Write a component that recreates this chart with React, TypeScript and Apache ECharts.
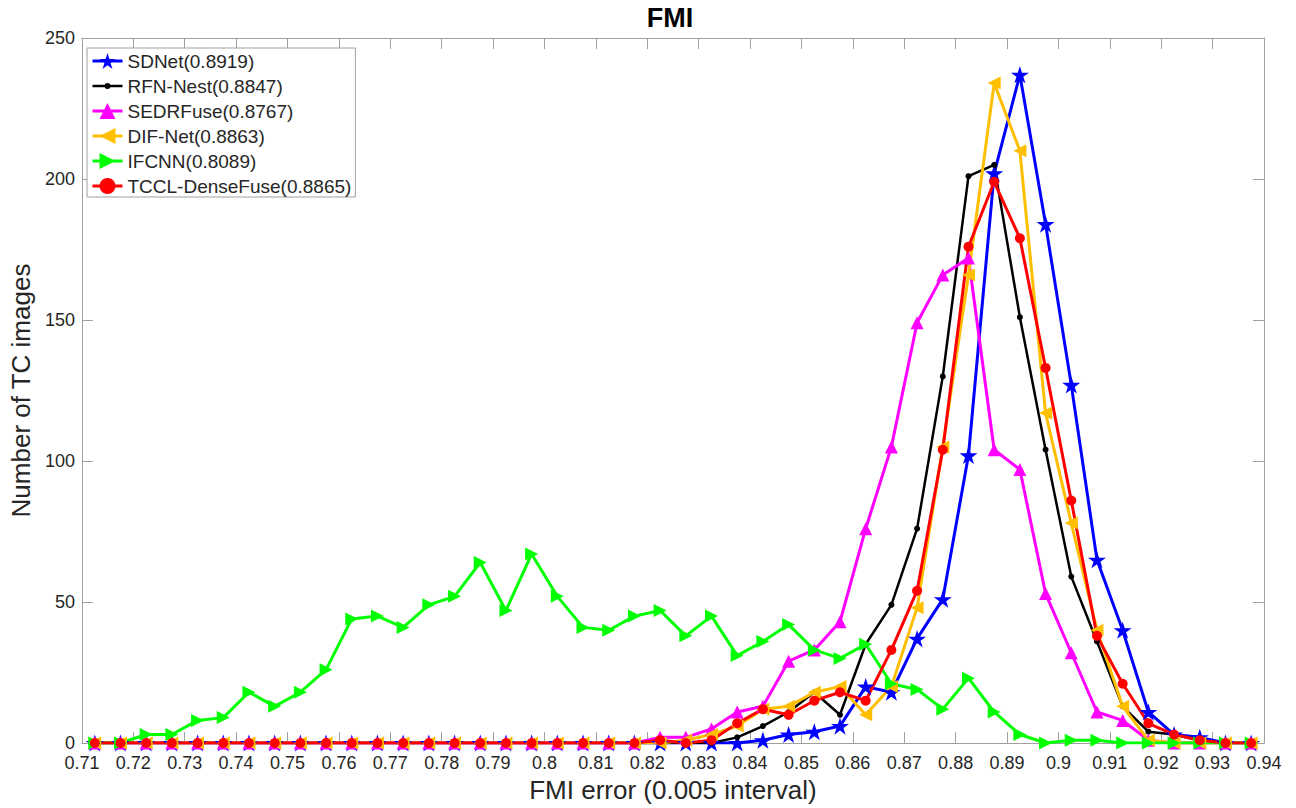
import React, { useEffect, useRef } from "react";
import * as echarts from "echarts";

// FMI bin centres (0.005 interval)
const binCenters = [
  0.7125, 0.7175, 0.7225, 0.7275, 0.7325, 0.7375, 0.7425, 0.7475, 0.7525, 0.7575,
  0.7625, 0.7675, 0.7725, 0.7775, 0.7825, 0.7875, 0.7925, 0.7975, 0.8025, 0.8075,
  0.8125, 0.8175, 0.8225, 0.8275, 0.8325, 0.8375, 0.8425, 0.8475, 0.8525, 0.8575,
  0.8625, 0.8675, 0.8725, 0.8775, 0.8825, 0.8875, 0.8925, 0.8975, 0.9025, 0.9075,
  0.9125, 0.9175, 0.9225, 0.9275, 0.9325, 0.9375,
];

const sdnet = [
  0, 0, 0, 0, 0, 0, 0, 0, 0, 0,
  0, 0, 0, 0, 0, 0, 0, 0, 0, 0,
  0, 0, 0, 0, 0, 0, 1, 3, 4, 6,
  20, 18, 37, 51, 102, 202, 237, 184, 127, 65,
  40, 11, 3, 2, 0, 0,
];
const rfnNest = [
  0, 0, 0, 0, 0, 0, 0, 0, 0, 0,
  0, 0, 0, 0, 0, 0, 0, 0, 0, 0,
  0, 0, 0, 0, 0, 2, 6, 11, 18, 10,
  35, 49, 76, 130, 201, 205, 151, 104, 59, 36,
  13, 4, 3, 1, 0, 0,
];
const sedrfuse = [
  0, 0, 0, 0, 0, 0, 0, 0, 0, 0,
  0, 0, 0, 0, 0, 0, 0, 0, 0, 0,
  0, 0, 2, 2, 5, 11, 13, 29, 33, 43,
  76, 105, 149, 166, 172, 104, 97, 53, 32, 11,
  8, 1, 0, 0, 0, 0,
];
const difNet = [
  0, 0, 0, 0, 0, 0, 0, 0, 0, 0,
  0, 0, 0, 0, 0, 0, 0, 0, 0, 0,
  0, 0, 0, 1, 3, 6, 12, 13, 18, 20,
  10, 20, 48, 105, 166, 234, 210, 117, 78, 40,
  13, 1, 0, 0, 0, 0,
];
const ifcnn = [
  0, 0, 3, 3, 8, 9, 18, 13, 18, 26,
  44, 45, 41, 49, 52, 64, 47, 67, 52, 41,
  40, 45, 47, 38, 45, 31, 36, 42, 33, 30,
  35, 21, 19, 12, 23, 11, 3, 0, 1, 1,
  0, 0, 0, 0, 0, 0,
];
const tccl = [
  0, 0, 0, 0, 0, 0, 0, 0, 0, 0,
  0, 0, 0, 0, 0, 0, 0, 0, 0, 0,
  0, 0, 1, 0, 1, 7, 12, 10, 15, 18,
  15, 33, 54, 104, 176, 199, 179, 133, 86, 38,
  21, 7, 3, 1, 0, 0,
];

const seriesNames = [
  "SDNet(0.8919)",
  "RFN-Nest(0.8847)",
  "SEDRFuse(0.8767)",
  "DIF-Net(0.8863)",
  "IFCNN(0.8089)",
  "TCCL-DenseFuse(0.8865)",
];

const xMin = 0.71;
const xMax = 0.94;
const xStep = 0.01;
const yMin = 0;
const yMax = 250;
const yStep = 50;

const STAR =
  "path://M50,0 L61.23,34.55 L97.55,34.55 L68.17,55.9 L79.39,90.45 L50,69.1 L20.61,90.45 L31.83,55.9 L2.45,34.55 L38.77,34.55 Z";
const TRI_LEFT = "path://M0,50 L100,0 L100,100 Z";
const TRI_RIGHT = "path://M100,50 L0,0 L0,100 Z";
// legend icon for the small-dot series: a line with a small dot in the middle
const LINE_DOT =
  "path://M0,1.75 L12.3,1.75 L12.3,4.25 L0,4.25 Z M17.7,1.75 L30,1.75 L30,4.25 L17.7,4.25 Z M18,3 A3,3 0 1,1 12,3 A3,3 0 1,1 18,3 Z";

const FONT = "Liberation Sans, Arial, Helvetica, sans-serif";
const AXIS_COLOR = "#a0a0a0";
const TEXT_COLOR = "#262626";

export default function App() {
  const ref = useRef<HTMLDivElement>(null);

  useEffect(() => {
    if (!ref.current) return;
    const chart = echarts.init(ref.current, null, { renderer: "svg" });

    const pairs = (vals: number[]) => binCenters.map((x, i) => [x, vals[i]]);

    const mk = (
      name: string,
      vals: number[],
      color: string,
      symbol: string,
      symbolSize: number,
      lineWidth: number
    ) => ({
      name,
      type: "line",
      data: pairs(vals),
      symbol,
      symbolSize,
      symbolKeepAspect: true,
      showAllSymbol: true,
      lineStyle: { color, width: lineWidth },
      itemStyle: { color, borderWidth: 0 },
      emphasis: { disabled: true },
      xAxisIndex: 0,
      yAxisIndex: 0,
    });

    const fmt = (v: number) => String(parseFloat(v.toFixed(2)));

    const legendData = seriesNames.map((name, i) =>
      i === 1 ? { name, icon: LINE_DOT } : { name }
    );

    const option: any = {
      animation: false,
      backgroundColor: "#ffffff",
      textStyle: { fontFamily: FONT },
      title: {
        text: "FMI",
        left: 670,
        textAlign: "center",
        top: 4,
        padding: 0,
        textStyle: { fontFamily: FONT, fontSize: 27, fontWeight: "bold", color: "#000" },
      },
      legend: {
        orient: "vertical",
        left: 87,
        top: 48,
        padding: [3, 4, 1, 4],
        itemGap: 5,
        itemWidth: 30,
        itemHeight: 20,
        backgroundColor: "#ffffff",
        borderColor: AXIS_COLOR,
        borderWidth: 1,
        selectedMode: false,
        lineStyle: { width: 3 },
        data: legendData,
        textStyle: { fontFamily: FONT, fontSize: 19, color: TEXT_COLOR, lineHeight: 20 },
      },
      grid: { left: 77, right: 32, top: 38, bottom: 65, containLabel: false },
      xAxis: [
        {
          type: "value",
          min: xMin,
          max: xMax,
          interval: xStep,
          position: "bottom",
          name: "FMI error (0.005 interval)",
          nameLocation: "middle",
          nameGap: 34,
          nameTextStyle: { fontFamily: FONT, fontSize: 26, color: TEXT_COLOR },
          axisLine: { show: true, onZero: false, lineStyle: { color: AXIS_COLOR, width: 1 } },
          axisTick: { show: true, inside: true, length: 11, lineStyle: { color: AXIS_COLOR } },
          axisLabel: {
            show: true,
            margin: 11,
            fontFamily: FONT,
            fontSize: 18,
            color: TEXT_COLOR,
            formatter: fmt,
            showMinLabel: true,
            showMaxLabel: true,
          },
          splitLine: { show: false },
        },
        {
          type: "value",
          min: xMin,
          max: xMax,
          interval: xStep,
          position: "top",
          axisLine: { show: true, onZero: false, lineStyle: { color: AXIS_COLOR, width: 1 } },
          axisTick: { show: true, inside: true, length: 11, lineStyle: { color: AXIS_COLOR } },
          axisLabel: { show: false },
          splitLine: { show: false },
        },
      ],
      yAxis: [
        {
          type: "value",
          min: yMin,
          max: yMax,
          interval: yStep,
          position: "left",
          name: "Number of TC images",
          nameLocation: "middle",
          nameGap: 32,
          nameTextStyle: { fontFamily: FONT, fontSize: 26, color: TEXT_COLOR },
          axisLine: { show: true, onZero: false, lineStyle: { color: AXIS_COLOR, width: 1 } },
          axisTick: { show: true, inside: true, length: 11, lineStyle: { color: AXIS_COLOR } },
          axisLabel: { show: true, margin: 7, fontFamily: FONT, fontSize: 18, color: TEXT_COLOR },
          splitLine: { show: false },
        },
        {
          type: "value",
          min: yMin,
          max: yMax,
          interval: yStep,
          position: "right",
          axisLine: { show: true, onZero: false, lineStyle: { color: AXIS_COLOR, width: 1 } },
          axisTick: { show: true, inside: true, length: 11, lineStyle: { color: AXIS_COLOR } },
          axisLabel: { show: false },
          splitLine: { show: false },
        },
      ],
      series: [
        mk(seriesNames[0], sdnet, "#0000ff", STAR, 18, 3),
        mk(seriesNames[1], rfnNest, "#000000", "circle", 6, 2.5),
        mk(seriesNames[2], sedrfuse, "#ff00ff", "triangle", 13, 3),
        mk(seriesNames[3], difNet, "#ffbf00", TRI_LEFT, 13, 3),
        mk(seriesNames[4], ifcnn, "#00ff00", TRI_RIGHT, 13, 3),
        mk(seriesNames[5], tccl, "#ff0000", "circle", 10, 3),
      ],
    };

    chart.setOption(option);
    return () => chart.dispose();
  }, []);

  return (
    <div
      ref={ref}
      style={{ position: "fixed", left: 0, top: 0, width: 1296, height: 808, background: "#fff" }}
    />
  );
}
